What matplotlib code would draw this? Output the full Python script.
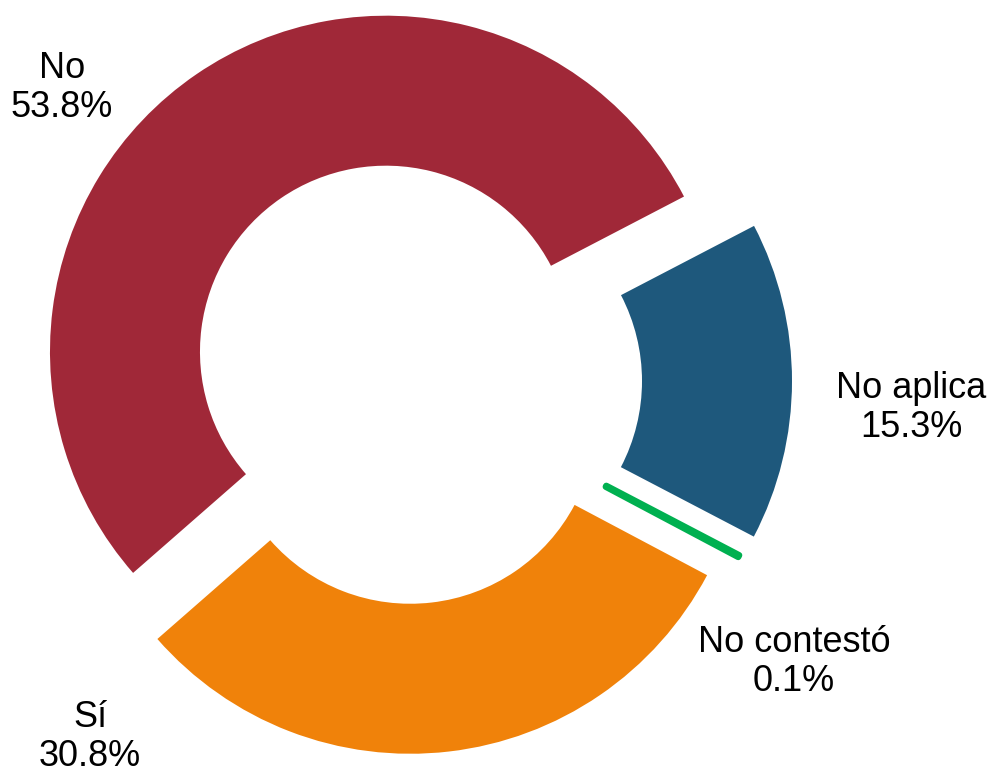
import matplotlib
matplotlib.use("Agg")
import matplotlib.pyplot as plt

# Data
categories = ["No", "Sí", "No contestó", "No aplica"]
values = [53.8, 30.8, 0.1, 15.3]
colors = ["#A02838", "#F0820A", "#00B050", "#1E587C"]

# Layout (pixel-based data units, y up)
W, H = 988, 773
center = (406, H - 381)
radius = 336
ring_width = 150
explode = [35.5, 37, 40, 50]
label_pos = [(62, H - 88), (90, H - 737), (794, H - 662), (911, H - 408)]

fig = plt.figure(figsize=(W / 100, H / 100), dpi=100)
ax = fig.add_axes([0, 0, 1, 1])

wedges, _ = ax.pie(values, colors=colors, startangle=27.5, counterclock=True,
                   explode=explode, radius=radius, center=center,
                   wedgeprops=dict(width=ring_width, linewidth=0))

# the tiny "No contestó" slice drawn as a green stroke
nc = wedges[categories.index("No contestó")]
nc.set_edgecolor(colors[2])
nc.set_linewidth(4.5)
nc.set_joinstyle("round")
nc.set_capstyle("round")

for cat, val, (x, y) in zip(categories, values, label_pos):
    ax.text(x, y, f"{cat}\n{val:.1f}%", ha="center", va="center",
            fontsize=26, family=["Liberation Sans", "DejaVu Sans"],
            linespacing=1.14, color="black")

ax.set_xlim(0, W)
ax.set_ylim(0, H)
ax.set_aspect("equal")
ax.axis("off")

fig.savefig("out.png", dpi=100)
